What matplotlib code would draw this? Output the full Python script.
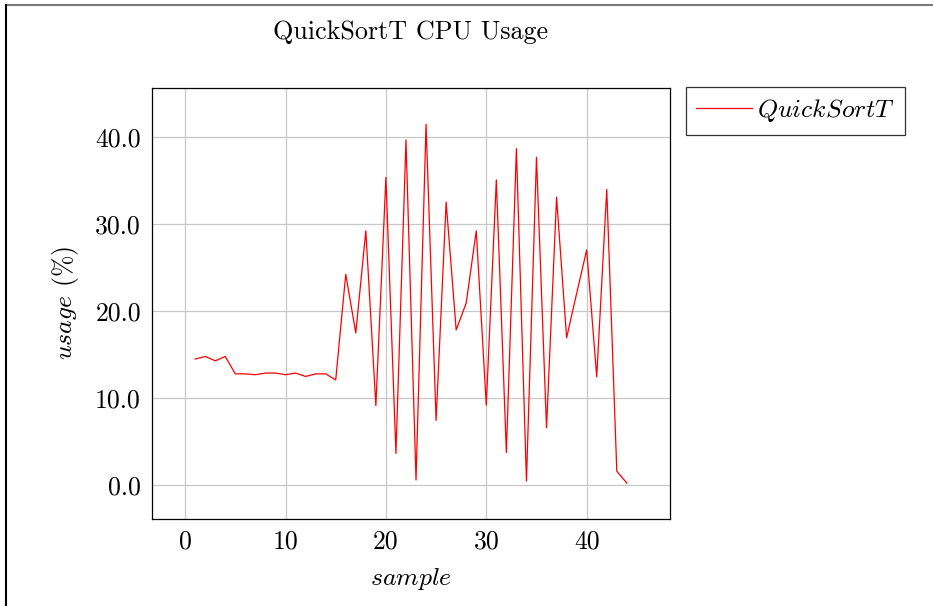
import matplotlib
matplotlib.use('Agg')
import matplotlib.pyplot as plt
from matplotlib.lines import Line2D
from matplotlib.ticker import FormatStrFormatter

plt.rcParams['font.family'] = 'serif'
plt.rcParams['font.serif'] = ['cmr10', 'DejaVu Serif']
plt.rcParams['mathtext.fontset'] = 'cm'
plt.rcParams['axes.unicode_minus'] = False

# cpu usage per sample
samples = list(range(1, 45))
usage = [14.45, 14.75, 14.25, 14.75, 12.75, 12.75, 12.65, 12.84, 12.84, 12.65,
         12.84, 12.45, 12.75, 12.75, 12.05, 24.2, 17.45, 29.2, 9.1, 35.35,
         3.6, 39.65, 0.55, 41.45, 7.4, 32.5, 17.8, 20.9, 29.2, 9.15,
         35.05, 3.7, 38.65, 0.42, 37.65, 6.55, 33.05, 16.9, 22.0, 27.0,
         12.4, 33.95, 1.55, 0.19]

fs = 18.5

fig = plt.figure(figsize=(9.33, 6.06), dpi=100)
ax = fig.add_axes([152 / 933, 1 - 519 / 606, 518 / 933, 431 / 606])

ax.plot(samples, usage, color='red', lw=0.9, label=r'$QuickSortT$')

ax.set_xlim(-3.3, 48.3)
ax.set_ylim(-3.94, 45.62)
ax.set_xticks([0, 10, 20, 30, 40])
ax.set_yticks([0, 10, 20, 30, 40])
ax.yaxis.set_major_formatter(FormatStrFormatter('%.1f'))
ax.grid(True, color='#c8c8c8', lw=0.9)
ax.set_axisbelow(True)
ax.tick_params(labelsize=fs, length=0, pad=8)
for s in ax.spines.values():
    s.set_linewidth(0.9)

ax.set_xlabel(r'$sample$', fontsize=fs, labelpad=9)
ax.set_ylabel(r'$usage$ (%)', fontsize=fs, labelpad=10)
ax.set_title('QuickSortT CPU Usage', fontsize=18.8, pad=35)

leg = ax.legend(loc='upper left', bbox_to_anchor=(1.03, 1.002), fontsize=fs,
                frameon=True, fancybox=False, edgecolor='black',
                handlelength=2.2, borderpad=0.4, handletextpad=0.2,
                borderaxespad=0)
leg.get_frame().set_linewidth(0.9)

# outer frame lines
fig.add_artist(Line2D([6 / 933, 1], [1 - 4.5 / 606] * 2, color='#777777', lw=1.5,
                      transform=fig.transFigure))
fig.add_artist(Line2D([6 / 933] * 2, [0, 1 - 4.5 / 606], color='black', lw=1.5,
                      transform=fig.transFigure))

fig.savefig('out.png', dpi=100)
